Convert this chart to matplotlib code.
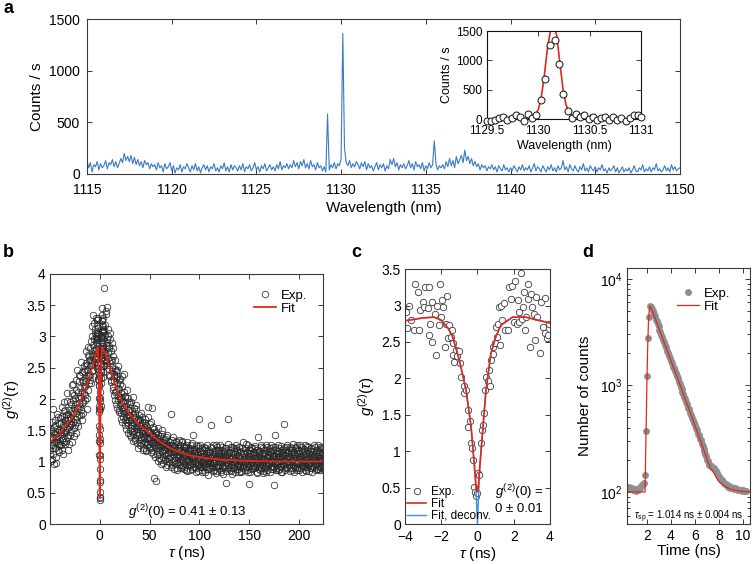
import numpy as np
import matplotlib
matplotlib.use("Agg")
import matplotlib.pyplot as plt
from matplotlib.ticker import MultipleLocator, FixedLocator, LogLocator, NullFormatter, FuncFormatter

# ---------------- data ----------------
# panel a: spectrum, counts/s every 0.1 nm starting at 1115 nm
a_start_nm = 1115.0
a_step_nm = 0.1
a_counts = [
    130, 60, 110, 20, 90, 70, 120, 40, 100, 60,
    80, 130, 50, 110, 90, 140, 70, 120, 60, 100,
    150, 110, 200, 130, 170, 120, 180, 100, 160, 90,
    140, 80, 120, 60, 130, 90, 110, 50, 100, 70,
    90, 40, 110, 60, 80, 20, 100, 50, 70, 110,
    30, 80, 10, 60, 40, 90, 20, 70, 50, 100,
    60, 20, 80, 40, 100, 30, 70, 10, 60, 90,
    40, 80, 20, 70, 50, 100, 30, 60, 20, 80,
    50, 110, 30, 70, 20, 90, 40, 80, 60, 30,
    80, 40, 100, 20, 70, 50, 90, 30, 60, 110,
    40, 70, 20, 80, 50, 100, 30, 60, 90, 40,
    70, 30, 90, 50, 120, 40, 80, 60, 100, 50,
    90, 60, 130, 70, 110, 50, 120, 80, 140, 60,
    100, 50, 130, 70, 90, 40, 110, 60, 80, 30,
    70, 20, 580, 40, 90, 60, 110, 50, 100, 80,
    150, 1360, 250, 110, 80, 130, 60, 100, 70, 120,
    90, 50, 110, 70, 120, 40, 100, 60, 80, 30,
    70, 110, 40, 90, 60, 100, 30, 80, 50, 140,
    90, 150, 70, 110, 40, 90, 60, 100, 50, 80,
    130, 60, 100, 40, 120, 70, 90, 50, 110, 30,
    80, 50, 110, 60, 90, 320, 100, 40, 80, 60,
    90, 50, 120, 70, 150, 80, 130, 60, 170, 100,
    140, 180, 110, 230, 130, 170, 100, 150, 80, 120,
    70, 100, 40, 90, 60, 80, 30, 70, 50, 90,
    40, 70, 20, 80, 50, 30, 90, 40, 60, 20,
    60, 30, 80, 50, 20, 70, 40, 90, 30, 60,
    40, 80, 20, 60, 100, 30, 70, 50, 20, 80,
    50, 20, 70, 40, 90, 30, 60, 20, 80, 40,
    60, 130, 40, 70, 20, 90, 50, 30, 80, 40,
    20, 70, 40, 100, 30, 60, 20, 80, 50, 30,
    70, 20, 60, 40, 90, 30, 50, 10, 60, 30,
    50, 80, 20, 60, 10, 40, 70, 20, 50, 30,
    60, 10, 40, 80, 30, 20, 60, 40, 90, 20,
    50, 30, 70, 20, 60, 40, 100, 30, 50, 20,
    40, 80, 30, 60, 20, 90, 40, 70, 30, 50,
    60,
]

# panel a inset: high-resolution scan
ins_nm = [1129.50, 1129.54, 1129.58, 1129.62, 1129.66, 1129.70, 1129.74, 1129.78,
          1129.82, 1129.86, 1129.90, 1129.94, 1129.98, 1130.03, 1130.07, 1130.11,
          1130.16, 1130.20, 1130.24, 1130.29, 1130.33, 1130.37, 1130.41, 1130.45,
          1130.49, 1130.53, 1130.57, 1130.61, 1130.65, 1130.69, 1130.73, 1130.77,
          1130.81, 1130.85, 1130.89, 1130.93, 1130.97, 1131.00]
ins_counts = [-40, -40, -20, 20, 40, -10, 10, 60, 40, -30, 80, 20, 60, 320, 680,
              1270, 1340, 940, 430, 140, 20, 80, 30, 60, 0, 30, -20, 10, 40, -10,
              30, -20, 10, -30, 20, 70, 60, 40]
ins_fit_nm = [1129.5, 1129.8, 1129.9, 1129.96, 1130.0, 1130.03, 1130.06, 1130.09,
              1130.12, 1130.15, 1130.18, 1130.21, 1130.24, 1130.27, 1130.30, 1130.35,
              1130.4, 1130.5, 1130.8, 1131.0]
ins_fit_counts = [0, 0, 10, 50, 160, 380, 760, 1220, 1520, 1590, 1420, 960, 520,
                  240, 110, 35, 12, 0, 0, 0]

# panel b: g2 on a long time scale (values x100), two interleaved 0.5 ns grids
b_left_start, b_left_end = -50.0, -4.5
b_left_x100 = [
    135, 118, 152, 101, 140, 127, 184, 112, 146, 131,
    122, 158, 139, 98, 147, 176, 129, 141, 115, 162,
    143, 170, 126, 151, 188, 134, 112, 159, 145, 181,
    150, 128, 174, 161, 197, 139, 166, 118, 183, 155,
    171, 143, 192, 160, 209, 132, 178, 224, 154, 186,
    168, 201, 146, 231, 185, 172, 212, 157, 194, 238,
    189, 218, 175, 201, 243, 166, 227, 196, 252, 210,
    221, 198, 258, 233, 184, 247, 270, 215, 236, 262,
    239, 281, 226, 258, 300, 244, 271, 287, 259, 322,
    276, 305,
]
b_left2_start, b_left2_end = -49.75, -4.75
b_left2_x100 = [
    112, 149, 127, 163, 104, 138, 121, 155, 96, 144,
    167, 131, 108, 152, 136, 119, 171, 126, 150, 133,
    128, 162, 147, 119, 173, 156, 138, 195, 131, 166,
    182, 147, 133, 169, 154, 210, 143, 176, 162, 128,
    158, 196, 169, 147, 222, 181, 163, 199, 141, 207,
    192, 159, 215, 178, 247, 163, 201, 186, 229, 174,
    205, 236, 183, 259, 212, 194, 231, 177, 244, 219,
    248, 207, 276, 229, 254, 201, 239, 283, 226, 268,
    262, 231, 293, 255, 316, 268, 247, 334, 279, 296,
    312, 264,
]
b_right_start, b_right_end = 4.5, 229.5
b_right_x100 = [
    378, 262, 318, 287, 341, 255, 296, 273, 312, 248,
    281, 236, 305, 262, 227, 289, 251, 214, 268, 240,
    229, 262, 198, 244, 213, 186, 237, 205, 252, 179,
    216, 191, 232, 168, 204, 185, 221, 172, 196, 240,
    177, 203, 158, 189, 171, 214, 163, 182, 146, 196,
    175, 151, 192, 166, 139, 181, 158, 203, 144, 170,
    162, 138, 178, 155, 190, 147, 129, 168, 152, 175,
    143, 166, 127, 158, 140, 172, 149, 121, 162, 137,
    155, 131, 168, 143, 119, 150, 136, 187, 128, 146,
    139, 160, 123, 147, 133, 186, 118, 141, 129, 152,
    74, 131, 145, 69, 124, 138, 112, 153, 127, 106,
    133, 119, 141, 102, 128, 150, 115, 132, 97, 124,
    118, 136, 104, 127, 92, 121, 143, 110, 125, 99,
    122, 108, 131, 176, 115, 95, 127, 112, 139, 101,
    117, 96, 124, 108, 133, 90, 119, 105, 128, 112,
    99, 121, 107, 89, 116, 131, 102, 113, 94, 125,
    108, 118, 91, 127, 103, 85, 114, 99, 122, 106,
    112, 95, 118, 104, 126, 88, 109, 97, 143, 101,
    107, 120, 92, 113, 99, 84, 116, 103, 125, 94,
    168, 105, 91, 117, 100, 112, 86, 122, 98, 109,
    95, 114, 101, 83, 119, 104, 92, 126, 97, 110,
    103, 88, 116, 99, 158, 107, 93, 121, 100, 85,
    112, 97, 119, 104, 82, 108, 123, 95, 113, 101,
    90, 114, 99, 126, 87, 106, 118, 93, 109, 80,
    103, 117, 94, 108, 66, 121, 98, 111, 89, 168,
    105, 92, 119, 101, 85, 113, 96, 124, 108, 90,
    117, 99, 106, 83, 121, 102, 94, 115, 88, 110,
    96, 123, 104, 91, 117, 85, 108, 99, 131, 93,
    112, 101, 87, 119, 105, 92, 114, 98, 126, 83,
    64, 108, 118, 95, 104, 88, 121, 100, 111, 93,
    115, 89, 106, 122, 97, 110, 84, 118, 103, 140,
    92, 116, 101, 87, 123, 106, 95, 113, 81, 109,
    104, 119, 91, 112, 98, 127, 86, 107, 116, 94,
    111, 96, 121, 103, 88, 115, 100, 92, 124, 107,
    63, 110, 98, 142, 105, 90, 118, 101, 86, 113,
    99, 122, 93, 108, 116, 84, 104, 119, 96, 111,
    160, 102, 89, 115, 97, 124, 106, 91, 113, 100,
    118, 94, 107, 85, 121, 103, 112, 96, 128, 89,
    106, 116, 92, 110, 99, 123, 87, 105, 118, 97,
    112, 90, 104, 126, 95, 109, 83, 117, 101, 93,
    120, 98, 108, 87, 114, 102, 125, 91, 106, 96,
    111, 85, 117, 100, 93, 122, 104, 89, 115, 99,
    107, 126, 94, 112, 86, 103, 119, 97, 109, 88,
    116, 101, 92, 124, 105, 90, 113, 98, 121, 95,
    108, 87, 118, 102, 96, 127, 91, 110, 104, 99,
    112,
]
b_right2_start, b_right2_end = 4.75, 229.75
b_right2_x100 = [
    302, 271, 336, 258, 289, 347, 266, 301, 239, 284,
    257, 296, 231, 276, 244, 263, 219, 281, 236, 207,
    248, 211, 234, 192, 226, 247, 199, 218, 183, 231,
    201, 224, 178, 209, 193, 236, 164, 197, 181, 212,
    188, 166, 205, 179, 152, 193, 174, 158, 201, 167,
    183, 142, 171, 154, 196, 163, 147, 175, 133, 186,
    149, 171, 135, 163, 184, 142, 158, 121, 167, 146,
    159, 134, 152, 178, 130, 145, 163, 118, 151, 139,
    132, 161, 144, 117, 159, 138, 126, 149, 171, 124,
    148, 121, 137, 163, 115, 144, 130, 156, 112, 135,
    126, 140, 108, 132, 147, 119, 136, 101, 142, 121,
    112, 138, 125, 96, 131, 117, 144, 108, 127, 135,
    129, 102, 120, 139, 111, 94, 126, 133, 105, 117,
    104, 127, 115, 92, 121, 134, 99, 118, 126, 88,
    124, 103, 115, 131, 97, 112, 87, 121, 109, 135,
    110, 126, 95, 118, 104, 133, 92, 115, 101, 88,
    97, 121, 110, 86, 124, 102, 131, 95, 112, 119,
    101, 87, 122, 108, 95, 117, 129, 91, 106, 114,
    119, 98, 108, 127, 89, 111, 96, 122, 85, 104,
    96, 115, 126, 91, 107, 84, 118, 103, 95, 124,
    108, 92, 121, 97, 113, 88, 105, 117, 79, 102,
    115, 97, 89, 124, 106, 92, 111, 98, 127, 86,
    99, 116, 104, 91, 127, 85, 109, 118, 93, 106,
    118, 95, 108, 84, 112, 101, 124, 89, 104, 115,
    92, 109, 121, 97, 85, 113, 102, 128, 94, 107,
    116, 87, 104, 123, 95, 108, 80, 114, 99, 121,
    91, 112, 97, 126, 103, 88, 118, 94, 109, 84,
    107, 93, 116, 101, 84, 122, 97, 113, 90, 104,
    94, 122, 99, 108, 128, 86, 115, 92, 103, 119,
    109, 84, 112, 97, 123, 101, 89, 116, 95, 108,
    98, 125, 91, 104, 113, 82, 119, 99, 107, 88,
    117, 94, 109, 126, 90, 102, 114, 85, 121, 97,
    89, 113, 102, 95, 118, 83, 106, 124, 99, 110,
    97, 108, 84, 117, 101, 126, 93, 111, 88, 119,
    104, 91, 123, 99, 112, 86, 117, 95, 108, 127,
    88, 114, 101, 92, 125, 98, 109, 83, 116, 103,
    121, 95, 110, 87, 104, 118, 92, 127, 99, 113,
    96, 107, 124, 90, 115, 101, 86, 119, 105, 94,
    112, 84, 103, 121, 97, 109, 126, 92, 114, 100,
    87, 118, 96, 108, 89, 123, 102, 115, 94, 110,
    103, 91, 126, 99, 112, 85, 107, 118, 95, 124,
    98, 114, 89, 106, 121, 93, 110, 84, 117, 102,
    92, 109, 123, 96, 104, 116, 88, 112, 99, 127,
    106, 93, 115, 87, 120, 102, 96, 124, 91, 109,
    118, 97, 105, 89, 113, 100, 122, 94, 108, 86,
    103,
]
b_fit_tau = [-50, -45, -40, -35, -30, -25, -20, -15, -10, -6, -3, -2, -1, -0.5, -0.2, 0,
             0.2, 0.5, 1, 2, 3, 4.5, 6, 8, 10, 12, 15, 17, 20, 25, 30, 40, 50, 60, 70, 80,
             90, 100, 120, 150, 180, 230]
b_fit_g = [1.31, 1.38, 1.45, 1.55, 1.65, 1.78, 1.95, 2.15, 2.38, 2.6, 2.78, 2.82, 2.3,
           1.5, 0.75, 0.41, 0.75, 1.5, 2.3, 2.82, 2.8, 2.76, 2.7, 2.6, 2.5, 2.4, 2.25,
           2.15, 2.03, 1.88, 1.75, 1.58, 1.45, 1.32, 1.22, 1.15, 1.1, 1.07, 1.03, 1.01,
           1.0, 1.0]

# panel c: g2 around zero delay
c_tau = [-3.95, -3.88, -3.76, -3.64, -3.5, -3.45, -3.3, -3.2, -3.15, -3.0, -2.93, -2.87,
         -2.74, -2.69, -2.65, -2.61, -2.52, -2.52, -2.37, -2.29, -2.25, -2.14, -2.06,
         -2.0, -1.96, -1.88, -1.79, -1.73, -1.69, -1.64, -1.55, -1.46, -1.4, -1.37,
         -1.33, -1.27, -1.18, -1.12, -1.03, -0.96, -0.9, -0.77, -0.72, -0.63, -0.53,
         -0.5, -0.44, -0.35, -0.29, -0.26, -0.2, -0.11, -0.07, -0.04, 0.03, 0.1, 0.19,
         0.23, 0.29, 0.34, 0.41, 0.47, 0.56, 0.65, 0.69, 0.74, 0.83, 0.87, 0.96, 1.01,
         1.07, 1.14, 1.2, 1.25, 1.29, 1.38, 1.47, 1.51, 1.66, 1.75, 1.84, 1.93, 2.0,
         2.09, 2.16, 2.21, 2.27, 2.3, 2.4, 2.45, 2.52, 2.58, 2.63, 2.67, 2.76, 2.81,
         2.89, 2.94, 3.03, 3.12, 3.18, 3.21, 3.3, 3.45, 3.5, 3.6, 3.7, 3.75, 3.85,
         3.9, 3.95]
c_g = [2.91, 2.69, 3.0, 2.8, 2.66, 3.29, 3.18, 2.66, 2.94, 3.05, 2.98, 3.26, 2.96, 3.26,
       2.59, 2.75, 3.05, 2.5, 2.89, 2.32, 3.0, 2.73, 3.3, 2.84, 3.07, 2.98, 2.43, 2.75,
       3.13, 2.55, 2.73, 2.57, 2.66, 2.32, 2.48, 2.23, 2.39, 2.3, 2.37, 2.21, 2.02, 1.89,
       1.8, 1.84, 1.57, 1.33, 1.42, 1.11, 1.04, 0.88, 0.51, 0.44, 0.38, 0.42, 0.7, 0.67,
       1.11, 1.29, 1.36, 1.52, 1.84, 2.02, 1.97, 2.11, 1.89, 2.25, 2.43, 2.34, 2.48, 2.71,
       2.57, 2.75, 2.98, 2.46, 3.0, 2.8, 3.03, 2.66, 2.66, 3.25, 3.09, 3.27, 2.77, 3.34,
       2.75, 3.07, 2.91, 2.77, 3.45, 2.82, 2.98, 3.18, 2.66, 2.84, 3.09, 3.3, 2.43, 3.16,
       2.98, 2.89, 2.52, 3.12, 2.84, 2.35, 3.05, 2.7, 2.62, 3.1, 2.55, 2.6, 2.75]
c_fit_tau = [-4, -3, -2.4, -2, -1.6, -1.37, -1.0, -0.63, -0.35, -0.15, -0.07, -0.02, 0.05,
             0.1, 0.29, 0.47, 0.74, 1.01, 1.29, 1.93, 2.67, 3.3, 4]
c_fit_g = [2.79, 2.83, 2.84, 2.8, 2.68, 2.57, 2.25, 1.84, 1.33, 0.74, 0.5, 0.44, 0.5,
           0.7, 1.29, 1.84, 2.34, 2.57, 2.73, 2.84, 2.84, 2.8, 2.76]
c_dec_tau = [-4, -3, -2.4, -2, -1.6, -1.37, -1.0, -0.63, -0.35, -0.15, -0.08, 0.0, 0.07,
             0.1, 0.29, 0.47, 0.74, 1.01, 1.29, 1.93, 2.67, 3.3, 4]
c_dec_g = [2.79, 2.83, 2.84, 2.8, 2.68, 2.57, 2.25, 1.84, 1.33, 0.74, 0.45, 0.0, 0.45,
           0.7, 1.29, 1.84, 2.34, 2.57, 2.73, 2.84, 2.84, 2.8, 2.76]

# panel d: time-resolved PL, counts every 0.08 ns starting at 0.40 ns
d_t0, d_dt = 0.40, 0.08
d_counts = [
    110, 112, 108, 106, 109, 105, 104, 107, 105, 103, 106, 104, 108, 110, 113, 116, 118, 121,
    145, 370, 1230, 2780, 4420, 5500, 5400,
    5150, 4950, 4620, 4430, 4120, 3980, 3720, 3580, 3320, 3190, 2980, 2850, 2660, 2550,
    2370, 2280, 2120, 2030, 1890, 1820, 1690, 1630, 1500, 1450, 1350, 1300, 1210, 1160,
    1080, 1040, 965, 930, 860, 835, 770, 745, 690, 665, 615, 595, 550, 530, 490, 475,
    440, 425, 395, 380, 350, 340, 316, 305, 282, 272, 252, 244, 226, 218, 201, 196,
    180, 178, 174, 171, 169, 166, 160, 156, 149, 145, 138, 134, 130, 128, 124, 122, 119,
    118, 115, 115, 112, 113, 110, 111, 108, 109, 107, 108, 106, 106, 105, 105, 104, 104,
    103, 104, 102, 103, 102,
]
d_fit_t = [0.45, 1.84, 1.88, 1.94, 2.0, 2.06, 2.12, 2.18, 2.24, 2.3, 2.6, 3.0, 3.5, 4.0,
           4.5, 5.0, 5.5, 6.0, 6.5, 7.0, 7.3, 7.45, 7.6, 7.8, 8.0, 8.5, 9.0, 9.5, 10.0, 10.6]
d_fit_n = [100, 100, 200, 500, 1200, 2400, 3900, 5000, 5500, 5450, 4520, 3400, 2400, 1700,
           1200, 850, 600, 420, 295, 205, 165, 160, 150, 136, 126, 113, 106, 103, 101, 100]

# ---------------- style ----------------
plt.rcParams['font.family'] = ['Liberation Sans', 'DejaVu Sans']
plt.rcParams['mathtext.fontset'] = 'custom'
plt.rcParams['mathtext.rm'] = 'Liberation Sans'
plt.rcParams['mathtext.it'] = 'Liberation Sans:italic'
plt.rcParams['mathtext.bf'] = 'Liberation Sans:bold'

BLUE = '#3a7ac6'
RED = '#e2281d'
FRAME = '#3a3a3a'


def style(ax, fs, xpad=3.5, ypad=3):
    ax.tick_params(which='both', direction='in', top=True, right=True, labelsize=fs,
                   width=0.7, color=FRAME)
    ax.tick_params(axis='x', which='both', pad=xpad)
    ax.tick_params(axis='y', which='both', pad=ypad)
    ax.tick_params(which='major', length=3.5)
    ax.tick_params(which='minor', length=2)
    for s in ax.spines.values():
        s.set_linewidth(0.8)
        s.set_color(FRAME)


fig = plt.figure(figsize=(7.53, 5.64), dpi=100)

# ---- panel a ----
axA = fig.add_axes([0.1155, 0.6915, 0.7875, 0.2748])
a_wl = a_start_nm + a_step_nm * np.arange(len(a_counts))
axA.plot(a_wl, a_counts, color=BLUE, lw=0.8)
axA.set_xlim(1115, 1150)
axA.set_ylim(0, 1500)
axA.xaxis.set_major_locator(MultipleLocator(5))
axA.yaxis.set_major_locator(MultipleLocator(500))
style(axA, 10, xpad=6.5, ypad=5)
axA.set_xlabel('Wavelength (nm)', fontsize=11, labelpad=3)
axA.set_ylabel('Counts / s', fontsize=11, labelpad=4)

axI = fig.add_axes([0.6467, 0.789, 0.2045, 0.156])
axI.plot(ins_fit_nm, ins_fit_counts, color=RED, lw=1.2, zorder=2)
axI.plot(ins_nm, ins_counts, 'o', mfc='white', mec='#111111', ms=5, mew=0.7,
         clip_on=False, zorder=3)
axI.set_xlim(1129.5, 1131)
axI.set_ylim(0, 1500)
axI.xaxis.set_major_locator(FixedLocator([1129.5, 1130, 1130.5, 1131]))
axI.set_xticklabels(['1129.5', '1130', '1130.5', '1131'])
axI.yaxis.set_major_locator(MultipleLocator(500))
style(axI, 8.5, xpad=4.5, ypad=3.5)
for s in axI.spines.values():
    s.set_color('#111111')
axI.set_xlabel('Wavelength (nm)', fontsize=9, labelpad=2)
axI.set_ylabel('Counts / s', fontsize=9, labelpad=2)

# ---- panel b ----
axB = fig.add_axes([0.0664, 0.0709, 0.3626, 0.4433])
b_tau = np.concatenate([
    np.linspace(b_left_start, b_left_end, len(b_left_x100)),
    np.linspace(b_left2_start, b_left2_end, len(b_left2_x100)),
    np.array(c_tau),
    np.linspace(b_right_start, b_right_end, len(b_right_x100)),
    np.linspace(b_right2_start, b_right2_end, len(b_right2_x100)),
])
b_g = np.concatenate([
    np.array(b_left_x100) / 100, np.array(b_left2_x100) / 100, np.array(c_g),
    np.array(b_right_x100) / 100, np.array(b_right2_x100) / 100,
])
axB.plot(b_tau, b_g, 'o', mfc='none', mec='#2a2a2a', ms=4.7, mew=0.55, label='Exp.')
axB.plot(b_fit_tau, b_fit_g, color=RED, lw=1.3, label='Fit')
axB.set_xlim(-50, 224)
axB.set_ylim(0, 4)
axB.xaxis.set_major_locator(FixedLocator([0, 50, 100, 150, 200]))
axB.yaxis.set_major_locator(MultipleLocator(0.5))
axB.yaxis.set_major_formatter(FuncFormatter(lambda v, p: f'{v:g}'))
style(axB, 10, xpad=3.5)
axB.set_xlabel(r'$\tau$ (ns)', fontsize=11, labelpad=1)
axB.set_ylabel(r'$g^{(2)}(\tau)$', fontsize=11, labelpad=3)
axB.legend(loc='upper right', frameon=False, fontsize=9.5, handlelength=1.6,
           handletextpad=0.4, labelspacing=0.05, borderaxespad=0.8)
axB.text(88, 0.19, r'$g^{(2)}(0)$ = 0.41 ± 0.13', ha='center', va='center', fontsize=9.5)

# ---- panel c ----
axC = fig.add_axes([0.5378, 0.0709, 0.1926, 0.452])
axC.plot(c_tau, c_g, 'o', mfc='white', mec='#3a3a3a', ms=4.6, mew=0.6, label='Exp.',
         zorder=1)
axC.plot(c_dec_tau, c_dec_g, color='#3d8fe0', lw=1.0, label='Fit, deconv.', zorder=2)
axC.plot(c_fit_tau, c_fit_g, color=RED, lw=1.2, label='Fit', zorder=3)
axC.set_xlim(-4, 4)
axC.set_ylim(0, 3.5)
axC.xaxis.set_major_locator(FixedLocator([-4, -2, 0, 2, 4]))
axC.set_xticklabels(['\u22124', '\u22122', '0', '2', '4'])
axC.yaxis.set_major_locator(MultipleLocator(0.5))
axC.yaxis.set_major_formatter(FuncFormatter(lambda v, p: f'{v:g}'))
style(axC, 10, xpad=4.5)
axC.set_xlabel(r'$\tau$ (ns)', fontsize=11, labelpad=0.5)
axC.set_ylabel(r'$g^{(2)}(\tau)$', fontsize=11, labelpad=3)
h, l = axC.get_legend_handles_labels()
order = [0, 2, 1]
axC.legend([h[i] for i in order], [l[i] for i in order], loc='lower left', frameon=False,
           fontsize=8.5, handlelength=1.6, handletextpad=0.4, labelspacing=0.0,
           borderaxespad=0.1, borderpad=0.1)
axC.text(0.95, 0.43, r'$g^{(2)}(0)$ =', fontsize=9.5, ha='left', va='center')
axC.text(0.95, 0.2, '0 ± 0.01', fontsize=9.5, ha='left', va='center')

# ---- panel d ----
axD = fig.add_axes([0.8327, 0.0709, 0.1633, 0.4539])
d_t = d_t0 + d_dt * np.arange(len(d_counts))
axD.plot(d_t, d_counts, 'o', color='#8f8f8f', ms=5, mew=0, label='Exp.')
axD.plot(d_fit_t, d_fit_n, color=RED, lw=0.9, label='Fit')
axD.set_yscale('log')
axD.set_xlim(0.33, 10.6)
axD.set_ylim(50, 12600)
axD.xaxis.set_major_locator(FixedLocator([2, 4, 6, 8, 10]))
axD.yaxis.set_major_locator(LogLocator(base=10, numticks=10))
axD.yaxis.set_minor_locator(LogLocator(base=10, subs=np.arange(2, 10), numticks=10))
axD.yaxis.set_minor_formatter(NullFormatter())
style(axD, 10, xpad=3.5)
axD.set_xlabel('Time (ns)', fontsize=11, labelpad=1)
axD.set_ylabel('Number of counts', fontsize=11, labelpad=6)
axD.legend(loc='upper right', frameon=False, fontsize=9.5, handlelength=1.6,
           handletextpad=0.4, labelspacing=0.05, borderaxespad=1.1)
axD.text(5.5, 58, r'$\tau_{\mathrm{sp}}$ = 1.014 ns ± 0.004 ns', ha='center', va='center',
         fontsize=7)

# ---- panel letters ----
for x, y, s in [(0.004, 0.985, 'a'), (0.004, 0.553, 'b'), (0.466, 0.553, 'c'),
                (0.773, 0.553, 'd')]:
    fig.text(x, y, s, fontsize=13, fontweight='bold', ha='left', va='center')

fig.savefig('out.png', dpi=100)
